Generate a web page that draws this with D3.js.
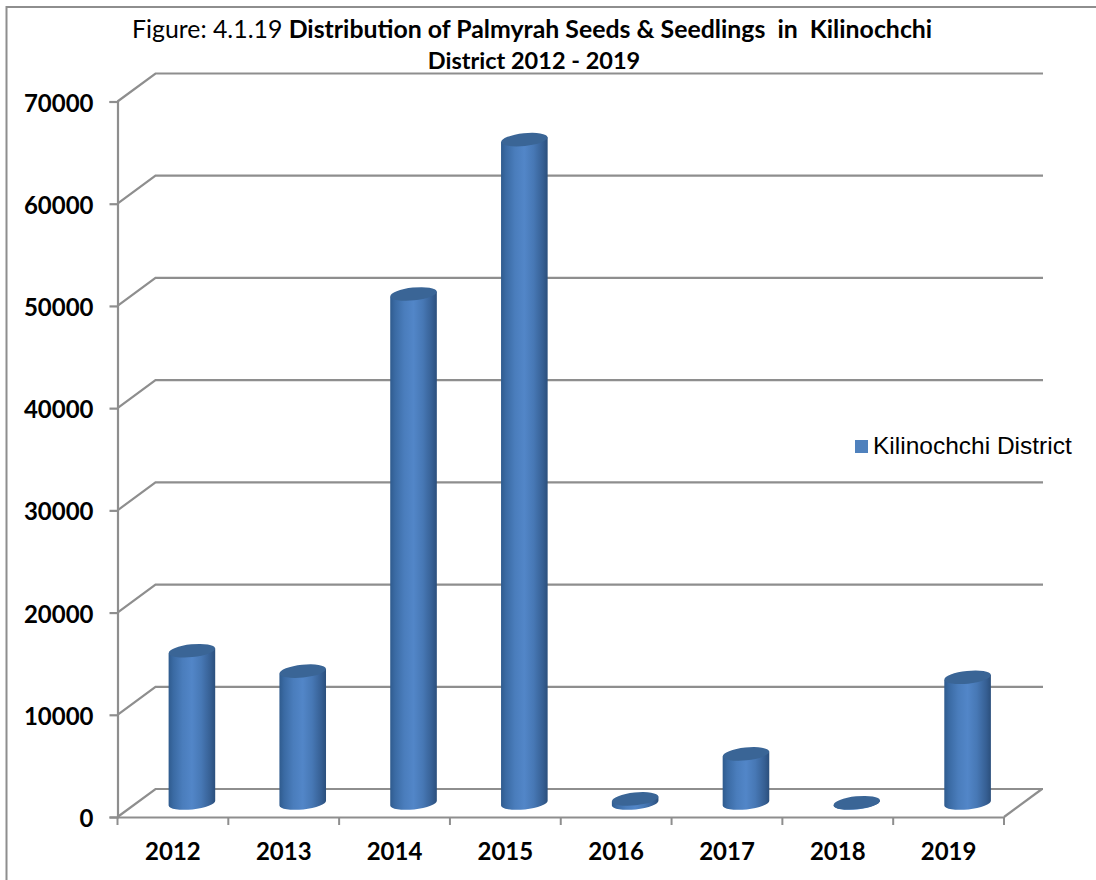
<!DOCTYPE html>
<html>
<head>
<meta charset="utf-8">
<script src="https://cdn.jsdelivr.net/npm/d3@7"></script>
<style>
html, body { margin: 0; padding: 0; background: #fff; overflow: hidden; }
svg { display: block; }
.tick-label { font-family: Lato, sans-serif; font-weight: 700; font-size: 24px; fill: #000; }
.title { font-family: Lato, sans-serif; font-size: 24.85px; fill: #000; }
.legend { font-family: "Liberation Sans", Arial, sans-serif; font-size: 24.5px; fill: #000; }
</style>
</head>
<body>
<div id="chart"></div>
<script>
var years = ["2012", "2013", "2014", "2015", "2016", "2017", "2018", "2019"];
var seedlings = [14900, 12900, 49800, 64900, 400, 4800, 30, 12300];
var yTicks = [0, 10000, 20000, 30000, 40000, 50000, 60000, 70000];
var seriesName = "Kilinochchi District";

var width = 1096, height = 880;
var LINE = "#8e8e8e";

var svg = d3.select("#chart").append("svg")
    .attr("width", width)
    .attr("height", height);

// front edge of the floor and the shift to the back wall
var x = d3.scaleBand().domain(years).range([117.5, 1004]);
var y = d3.scaleLinear().domain([0, 70000]).range([817, 101.5]);
var depthX = 38, depthY = -28;

var defs = svg.append("defs");
var grad = defs.append("linearGradient").attr("id", "cyl");
[[0, "#2f5b8e"], [0.1, "#3a6aa3"], [0.3, "#4a7dbc"], [0.5, "#5286c8"], [0.7, "#4778b5"], [0.9, "#365f93"], [1, "#2b4f7c"]]
    .forEach(function(s) {
        grad.append("stop").attr("offset", s[0]).attr("stop-color", s[1]);
    });

// outer frame, open at the right and bottom
svg.append("path")
    .attr("d", d3.line()([[6.5, height], [6.5, 7], [width, 7]]))
    .attr("fill", "none")
    .attr("stroke", LINE)
    .attr("stroke-width", 2);

// back wall gridlines and their slanted side wall parts
var grid = svg.append("g").attr("fill", "none").attr("stroke", LINE).attr("stroke-width", 2.2);
yTicks.forEach(function(t) {
    grid.append("path").attr("d", d3.line()([
        [x.range()[0], y(t)],
        [x.range()[0] + depthX, y(t) + depthY],
        [x.range()[1] + depthX + 1, y(t) + depthY]
    ]));
});
// floor
grid.append("path").attr("d", d3.line()([
    [x.range()[1], y(0)],
    [x.range()[1] + depthX, y(0) + depthY]
]));

// axes
var axisLeft = d3.axisLeft(y).tickValues(yTicks).tickFormat(d3.format("d")).tickSize(8).tickPadding(16);
var gy = svg.append("g").attr("transform", "translate(" + x.range()[0] + ",0)").call(axisLeft);
gy.selectAll("text").attr("class", "tick-label").attr("font-size", null).attr("font-family", null).attr("dy", "0.4em");

var axisBottom = d3.axisBottom(x).tickSize(0).tickPadding(26);
var gx = svg.append("g").attr("transform", "translate(0," + y(0) + ")").call(axisBottom);
gx.selectAll("text").attr("class", "tick-label").attr("font-size", null).attr("font-family", null);
d3.range(years.length + 1).forEach(function(i) {
    var tx = x.range()[0] + i * x.bandwidth();
    gx.append("line").attr("x1", tx).attr("x2", tx).attr("y1", 0).attr("y2", 8)
        .attr("stroke", LINE).attr("stroke-width", 2);
});
svg.selectAll(".domain, .tick line").attr("stroke", LINE).attr("stroke-width", 2.2);

// cylinders
var rx = 23.3, ry = 6.4, tilt = -6;
var barShiftX = 19, barShiftY = -14;
var bars = svg.append("g");
years.forEach(function(year, i) {
    var cx = x(year) + x.bandwidth() / 2 + barShiftX;
    var baseY = y(0) + barShiftY;
    var topY = y(seedlings[i]) + barShiftY;
    var edge = -rx * Math.sin(tilt * Math.PI / 180);
    // body: left side, base arc, right side, back to the left over the top
    var path = "M" + (cx - rx) + "," + (topY + edge) +
        "L" + (cx - rx) + "," + (baseY + edge) +
        "A" + rx + "," + ry + " " + tilt + " 0 0 " + (cx + rx) + "," + (baseY - edge) +
        "L" + (cx + rx) + "," + (topY - edge) + "Z";
    bars.append("path").attr("d", path).attr("fill", "url(#cyl)");
    bars.append("ellipse")
        .attr("cx", cx).attr("cy", topY)
        .attr("rx", rx).attr("ry", ry)
        .attr("transform", "rotate(" + tilt + " " + cx + " " + topY + ")")
        .attr("fill", "#3a6596");
});

// legend
svg.append("rect").attr("x", 855).attr("y", 440).attr("width", 13).attr("height", 13).attr("fill", "#4f81bd");
svg.append("text").attr("class", "legend").attr("x", 873).attr("y", 454).text(seriesName);

// title
var t1 = svg.append("text").attr("class", "title").attr("x", 132).attr("y", 38);
t1.append("tspan").text("Figure: 4.1.19 ");
t1.append("tspan").attr("font-weight", 700)
    .style("white-space", "pre").text("Distribution of Palmyrah Seeds & Seedlings  in  Kilinochchi");
svg.append("text").attr("class", "title").attr("x", 534).attr("y", 69)
    .attr("text-anchor", "middle").attr("font-weight", 700).style("font-size", "23.5px").text("District 2012 - 2019");
</script>
</body>
</html>
